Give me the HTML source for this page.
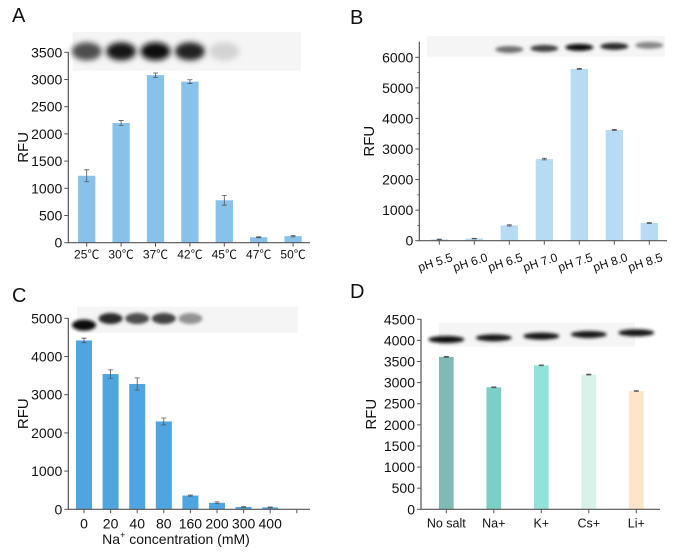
<!DOCTYPE html>
<html><head><meta charset="utf-8"><style>
body{margin:0;background:#fff;}
svg{display:block;font-family:"Liberation Sans","Noto Sans CJK SC",sans-serif;}
</style></head><body>
<svg id="fig" width="685" height="555" viewBox="0 0 685 555">
<defs>
<filter id="blur2" x="-50%" y="-50%" width="200%" height="200%"><feGaussianBlur stdDeviation="3"/></filter>
<filter id="blur1" x="-50%" y="-50%" width="200%" height="200%"><feGaussianBlur stdDeviation="1.6"/></filter>
</defs>
</svg>
<script>
const catsA=["25℃","30℃","37℃","42℃","45℃","47℃","50℃"];
const valsA=[1230,2200,3080,2960,780,100,120];
const errA=[110,45,40,35,90,8,12];
const ticksA=[0,500,1000,1500,2000,2500,3000,3500];
const gelA=[0.7,0.95,1,0.9,0.12,0,0];

const catsB=["pH 5.5","pH 6.0","pH 6.5","pH 7.0","pH 7.5","pH 8.0","pH 8.5"];
const valsB=[40,70,500,2670,5620,3620,580];
const errB=[10,10,20,25,15,20,15];
const ticksB=[0,1000,2000,3000,4000,5000,6000];
const gelB=[0,0,0.55,0.75,1,0.85,0.45];

const catsC=["0","20","40","80","160","200","300","400"];
const valsC=[4420,3540,3280,2300,360,170,60,50];
const errC=[60,110,160,90,15,25,10,8];
const ticksC=[0,1000,2000,3000,4000,5000];
const gelC=[1,0.85,0.7,0.75,0.4,0,0,0];

const catsD=["No salt","Na+","K+","Cs+","Li+"];
const valsD=[3610,2890,3410,3190,2800];
const errD=[10,10,10,10,10];
const ticksD=[0,500,1000,1500,2000,2500,3000,3500,4000,4500];
const gelD=[1,0.95,0.95,0.95,0.95];

const NS="http://www.w3.org/2000/svg";
const svg=document.getElementById('fig');
function mk(tag,attrs,parent){const e=document.createElementNS(NS,tag);for(const k in attrs)e.setAttribute(k,attrs[k]);(parent||svg).appendChild(e);return e;}

function panel(p){
  const g=mk('g',{});
  
  
  const y=v=>p.y0-(v/p.vmax)*(p.y0-p.yTop);
  const x=i=>p.x1+p.off+i*p.step;
  const L=mk('text',{x:p.lx,y:p.ly,'font-size':20,fill:'#111'},g);L.textContent=p.letter;
  
  
  const gel=mk('g',{},g);
  
  
  mk('rect',{x:p.gx,y:p.gy,width:p.gw,height:p.gh,fill:'#f5f5f5'},gel);
  p.gel.forEach((s,i)=>{
    if(s<=0)return;
    const cx=x(i), cy=p.gy+p.gh*p.gyf(i);
    const c=Math.round(238-228*s);
    mk('ellipse',{cx:cx,cy:cy,rx:p.grx,ry:p.gry,fill:`rgb(${c},${c},${c})`,filter:p.gblur},gel);
  });
  p.vals.forEach((v,i)=>{
    const b=mk('rect',{x:x(i)-p.bw/2,y:y(v),width:p.bw,height:p.y0-y(v),fill:p.colors[i%p.colors.length]},g);
    
    
    const e=p.err[i];
    mk('path',{d:`M${x(i)} ${y(v+e)}V${y(v-e)}M${x(i)-2.5} ${y(v+e)}h5M${x(i)-2.5} ${y(v-e)}h5`,stroke:'#555','stroke-width':0.8,fill:'none'},g);
  });
  const ax=mk('path',{d:`M${p.x1} ${p.axTop}V${p.y0}H${p.x2}`,stroke:'#555','stroke-width':1.2,fill:'none'},g);
  
  
  p.ticks.forEach(t=>{
    mk('line',{x1:p.x1-4,x2:p.x1,y1:y(t),y2:y(t),stroke:'#555','stroke-width':1},g);
    const tl=mk('text',{x:p.x1-6,y:y(t)+5,'font-size':14,'text-anchor':'end',fill:'#111'},g);tl.textContent=t;
    
    
  });
  if(p.minor){for(let t=p.minor;t<p.vmax*1.08;t+=p.minor*2){if(y(t)<p.axTop)break;mk('line',{x1:p.x1-2,x2:p.x1,y1:y(t),y2:y(t),stroke:'#555','stroke-width':0.8},g);}}
  const nx=p.cats.length+(p.extra?1:0);
  for(let i=0;i<nx;i++) mk('line',{x1:x(i),x2:x(i),y1:p.y0,y2:p.y0+4,stroke:'#555','stroke-width':1},g);
  p.cats.forEach((c,i)=>{
    const t=mk('text',{x:x(i),y:p.y0+p.xly,'font-size':p.xfs,'text-anchor':p.rot?'end':'middle',fill:'#111'},g);
    if(p.rot){t.setAttribute('x',x(i)+14);t.setAttribute('transform',`rotate(-18 ${x(i)+14} ${p.y0+p.xly})`);}
    t.textContent=c;
    
    
  });
  const yt=mk('text',{x:p.ytx,y:(p.y0+p.axTop)/2,'font-size':15,'text-anchor':'middle',fill:'#111',transform:`rotate(-90 ${p.ytx} ${(p.y0+p.axTop)/2})`},g);
  yt.textContent='RFU';
  
  
  return {g,x,y};
}

panel({name:'panel-a-temperature',letter:'A',lx:12,ly:22,cats:catsA,vals:valsA,err:errA,ticks:ticksA,gel:gelA,
 vmax:3500,y0:242.7,yTop:52.3,axTop:52,x1:68.3,x2:310,off:18.4,step:34.4,bw:17.3,colors:['#88c2ea'],
 gx:72.7,gy:32,gw:228.3,gh:38.7,gyf:()=>0.5,grx:15,gry:9,gblur:'url(#blur2)',xly:16,xfs:12,ytx:28});

panel({name:'panel-b-ph',letter:'B',lx:350,ly:24,cats:catsB,vals:valsB,err:errB,ticks:ticksB,gel:gelB,minor:500,
 vmax:6000,y0:240.7,yTop:57.3,axTop:41.7,x1:419.3,x2:667,off:20,step:35,bw:17.3,colors:['#b7dbf2'],
 gx:427,gy:36,gw:237.7,gh:20.7,gyf:i=>0.75-i*0.05,grx:14,gry:3.5,gblur:'url(#blur1)',xly:20,xfs:12,ytx:374,rot:true});

panel({name:'panel-c-sodium',letter:'C',lx:12,ly:302,cats:catsC,vals:valsC,err:errC,ticks:ticksC,gel:gelC,extra:true,
 vmax:5000,y0:509.3,yTop:318.3,axTop:318,x1:68.3,x2:310,off:15.7,step:26.6,bw:16,colors:['#4fa5e0'],
 gx:77,gy:306.7,gw:221,gh:26.3,gyf:i=>i==0?0.7:0.45,grx:12,gry:5.5,gblur:'url(#blur1)',xly:19,xfs:14,ytx:28});
const xl=mk('text',{x:176,y:544,'font-size':14,'text-anchor':'middle',fill:'#111'});
xl.innerHTML='Na<tspan font-size="9" dy="-6">+</tspan><tspan dy="6"> concentration (mM)</tspan>';



panel({name:'panel-d-salts',letter:'D',lx:350,ly:298,cats:catsD,vals:valsD,err:errD,ticks:ticksD,gel:gelD,
 vmax:4500,y0:509.3,yTop:319.3,axTop:319,x1:421,x2:660,off:25.3,step:47.5,bw:14.7,colors:['#80b9b5','#7ccfc6','#93e2da','#d8f2ea','#fde4cb'],
 gx:438.7,gy:322.7,gw:196.3,gh:24,gyf:i=>0.7-i*0.07,grx:18,gry:3.5,gblur:'url(#blur1)',xly:18,xfs:12.5,ytx:376});
</script>
</body></html>
